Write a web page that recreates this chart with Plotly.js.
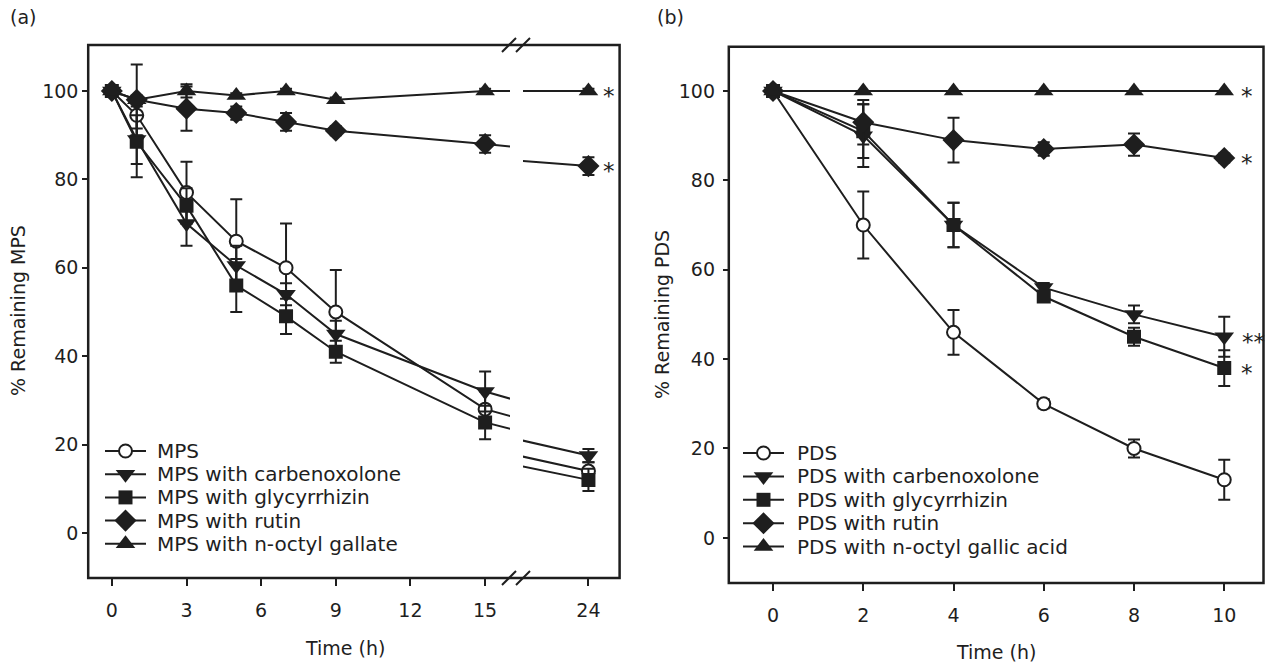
<!DOCTYPE html>
<html>
<head>
<meta charset="utf-8">
<script src="https://cdn.plot.ly/plotly-3.0.1.min.js"></script>
<style>
html,body{margin:0;padding:0;background:#fff;}
#chart{width:1266px;height:663px;}
</style>
</head>
<body>
<div id="chart"></div>
<script>
// ---------- Data: panel (a) MPS ----------
const timeA = [0, 1, 3, 5, 7, 9, 15, 24];
const mpsA        = [100, 94.5, 77, 66, 60, 50, 28, 14];
const mpsErrA     = [0, 3, 7, 9.5, 10, 9.5, 4, 2];
const carbA       = [100, 89, 70, 60.5, 54, 45, 32, 17.5];
const carbErrA    = [0, 5.5, 5, 4.5, 2.5, 3, 4.5, 1.5];
const glyA        = [100, 88.5, 74, 56, 49, 41, 25, 12];
const glyErrA     = [0, 8, 4, 6, 4, 2.5, 3.8, 2.5];
const rutA        = [100, 98, 96, 95, 93, 91, 88, 83];
const rutErrA     = [0, 8, 5, 1.5, 2, 1, 2, 2];
const galA        = [100, 98, 100, 99, 100, 98, 100, 100];
const galErrA     = [0, 1, 1.5, 0.5, 0.5, 0.5, 0.5, 0.5];
const namesA = ["MPS", "MPS with carbenoxolone", "MPS with glycyrrhizin", "MPS with rutin", "MPS with n-octyl gallate"];
const xTicksA1 = [0, 3, 6, 9, 12, 15];
const xTicksA2 = [24];

// ---------- Data: panel (b) PDS ----------
const timeB = [0, 2, 4, 6, 8, 10];
const pdsB        = [100, 70, 46, 30, 20, 13];
const pdsErrB     = [0, 7.5, 5, 1, 2, 4.5];
const carbB       = [100, 90, 70, 56, 50, 45];
const carbErrB    = [0, 7, 5, 1, 2, 4.5];
const glyB        = [100, 91, 70, 54, 45, 38];
const glyErrB     = [0, 6, 5, 1, 2, 4];
const rutB        = [100, 93, 89, 87, 88, 85];
const rutErrB     = [0, 5, 5, 1.5, 2.5, 1];
const galB        = [100, 100, 100, 100, 100, 100];
const galErrB     = [0, 0, 0, 0, 0, 0];
const namesB = ["PDS", "PDS with carbenoxolone", "PDS with glycyrrhizin", "PDS with rutin", "PDS with n-octyl gallic acid"];
const xTicksB = [0, 2, 4, 6, 8, 10];
const yTicks = [0, 20, 40, 60, 80, 100];

// ---------- Styling ----------
const INK = "#1e1e1e";
const FONT = "DejaVu Sans";
const FS = 19;
const W = 1266, H = 663;
const px = v => v / W;
const py = v => 1 - v / H;

const symbols  = ["circle", "triangle-down", "square", "diamond", "triangle-up"];
const fills    = ["#ffffff", INK, INK, INK, INK];
const sizes    = [13, 17, 14, 17, 17];
const outlines = [2, 0, 0, 0, 0];

// geometry (pixels)
const A = {l: 88.2, brkL: 510, brkR: 523, r: 619.6, t: 45, b: 578};
const B = {l: 728.8, r: 1263.5, t: 46.7, b: 583};
// legend geometry (pixels)
const LEG = [
  {keyL: 105, keyR: 146, text: 155, top: 451, row: 23.2, names: namesA},
  {keyL: 743, keyR: 784, text: 795, top: 453, row: 23.4, names: namesB}
];

function series(x, y, err, i, name, xa, ya) {
  return {
    type: "scatter", mode: "lines+markers", x: x, y: y, name: name,
    xaxis: xa, yaxis: ya, showlegend: false,
    line: {color: INK, width: 2},
    marker: {symbol: symbols[i], color: fills[i], size: sizes[i], opacity: 1, line: {color: INK, width: outlines[i]}},
    error_y: {type: "data", array: err, visible: true, color: INK, thickness: 2, width: 6},
    cliponaxis: true, hoverinfo: "skip"
  };
}

const valsA = [[mpsA, mpsErrA], [carbA, carbErrA], [glyA, glyErrA], [rutA, rutErrA], [galA, galErrA]];
const valsB = [[pdsB, pdsErrB], [carbB, carbErrB], [glyB, glyErrB], [rutB, rutErrB], [galB, galErrB]];

const traces = [];
for (let i = 0; i < 5; i++) traces.push(series(timeA, valsA[i][0], valsA[i][1], i, namesA[i], "x", "y"));
for (let i = 0; i < 5; i++) traces.push(series(timeA, valsA[i][0], valsA[i][1], i, namesA[i], "x2", "y"));
for (let i = 0; i < 5; i++) traces.push(series(timeB, valsB[i][0], valsB[i][1], i, namesB[i], "x3", "y2"));

// legend keys (markers) drawn on a full-page pixel overlay axis
const shapes = [];
const annFont = {family: FONT, size: FS, color: INK};
const legFont = {family: FONT, size: 20, color: INK};
const starFont = {family: FONT, size: 23, color: INK};
const annotations = [];
LEG.forEach(g => {
  const kx = [], ky = [];
  for (let i = 0; i < 5; i++) {
    const yy = g.top + i * g.row;
    kx.push((g.keyL + g.keyR) / 2); ky.push(yy);
    shapes.push({type: "line", xref: "paper", yref: "paper", x0: px(g.keyL), x1: px(g.keyR),
      y0: py(yy), y1: py(yy), line: {color: INK, width: 2}, layer: "below"});
    annotations.push({xref: "paper", yref: "paper", x: px(g.text), y: py(yy), text: g.names[i],
      showarrow: false, xanchor: "left", yanchor: "middle", font: legFont});
  }
  traces.push({type: "scatter", mode: "markers", x: kx, y: ky, xaxis: "x4", yaxis: "y3",
    showlegend: false, hoverinfo: "skip", cliponaxis: false,
    marker: {symbol: symbols, color: fills, size: sizes, opacity: 1, line: {color: INK, width: outlines}}});
});

const tickFont = {family: FONT, size: FS, color: INK};
const xCommon = {
  showgrid: false, zeroline: false, showline: false,
  ticks: "outside", ticklen: 7, tickwidth: 2, tickcolor: INK,
  tickfont: tickFont, ticklabelstandoff: 8, fixedrange: true, tickmode: "array"
};
const yCommon = {
  showgrid: false, zeroline: false, showline: false,
  ticks: "outside", ticklen: 5, tickwidth: 2, tickcolor: INK,
  tickfont: tickFont, tickmode: "array", tickvals: yTicks, fixedrange: true
};

const frameLine = {color: INK, width: 2.5};
shapes.push(
  {type: "rect", xref: "paper", yref: "paper", x0: px(A.l), x1: px(A.r), y0: py(A.b), y1: py(A.t), line: frameLine, layer: "above"},
  {type: "rect", xref: "paper", yref: "paper", x0: px(B.l), x1: px(B.r), y0: py(B.b), y1: py(B.t), line: frameLine, layer: "above"}
);
// axis-break slashes
[A.t, A.b].forEach(yy => {
  [502, 516].forEach(xx => {
    shapes.push({type: "line", xref: "paper", yref: "paper",
      x0: px(xx), y0: py(yy + 7), x1: px(xx + 14), y1: py(yy - 7),
      line: {color: INK, width: 2}, layer: "above"});
  });
});

annotations.push(
  {xref: "paper", yref: "paper", x: px(8), y: py(17), text: "(a)", showarrow: false, xanchor: "left", yanchor: "middle", font: annFont},
  {xref: "paper", yref: "paper", x: px(655), y: py(17), text: "(b)", showarrow: false, xanchor: "left", yanchor: "middle", font: annFont},
  {xref: "paper", yref: "paper", x: px(345), y: py(648), text: "Time (h)", showarrow: false, xanchor: "center", yanchor: "middle", font: annFont},
  {xref: "paper", yref: "paper", x: px(996), y: py(652), text: "Time (h)", showarrow: false, xanchor: "center", yanchor: "middle", font: annFont},
  {xref: "paper", yref: "paper", x: px(18), y: py(311), text: "% Remaining MPS", textangle: -90, showarrow: false, xanchor: "center", yanchor: "middle", font: annFont},
  {xref: "paper", yref: "paper", x: px(662), y: py(315), text: "% Remaining PDS", textangle: -90, showarrow: false, xanchor: "center", yanchor: "middle", font: annFont},
  // significance marks next to the last points
  {xref: "x2", yref: "y", x: timeA[7], y: galA[7], text: "*", showarrow: false, xshift: 21, yshift: -5, font: starFont},
  {xref: "x2", yref: "y", x: timeA[7], y: rutA[7], text: "*", showarrow: false, xshift: 21, yshift: -5, font: starFont},
  {xref: "x3", yref: "y2", x: timeB[5], y: galB[5], text: "*", showarrow: false, xshift: 23, yshift: -5, font: starFont},
  {xref: "x3", yref: "y2", x: timeB[5], y: rutB[5], text: "*", showarrow: false, xshift: 23, yshift: -5, font: starFont},
  {xref: "x3", yref: "y2", x: timeB[5], y: carbB[5], text: "**", showarrow: false, xshift: 29, yshift: -5, font: starFont},
  {xref: "x3", yref: "y2", x: timeB[5], y: glyB[5], text: "*", showarrow: false, xshift: 23, yshift: -5, font: starFont}
);

const layout = {
  width: W, height: H,
  margin: {l: 0, r: 0, t: 0, b: 0},
  paper_bgcolor: "#ffffff", plot_bgcolor: "rgba(0,0,0,0)",
  font: {family: FONT, color: INK},
  showlegend: false,
  xaxis: Object.assign({}, xCommon, {domain: [px(A.l), px(A.brkL)], range: [-0.95, 16.0], anchor: "y", tickvals: xTicksA1}),
  xaxis2: Object.assign({}, xCommon, {domain: [px(A.brkR), px(A.r)], range: [21.9, 25.0], anchor: "y", tickvals: xTicksA2}),
  yaxis: Object.assign({}, yCommon, {domain: [py(A.b), py(A.t)], range: [-10.2, 110.4], anchor: "x"}),
  xaxis3: Object.assign({}, xCommon, {domain: [px(B.l), px(B.r)], range: [-0.98, 10.87], anchor: "y2", tickvals: xTicksB}),
  yaxis2: Object.assign({}, yCommon, {domain: [py(B.b), py(B.t)], range: [-10.1, 109.9], anchor: "x3", ticklabelstandoff: 4}),
  xaxis4: {domain: [0, 1], range: [0, W], visible: false, anchor: "y3", fixedrange: true},
  yaxis3: {domain: [0, 1], range: [H, 0], visible: false, anchor: "x4", fixedrange: true},
  shapes: shapes,
  annotations: annotations
};

Plotly.newPlot("chart", traces, layout, {staticPlot: true, displayModeBar: false});
</script>
</body>
</html>
